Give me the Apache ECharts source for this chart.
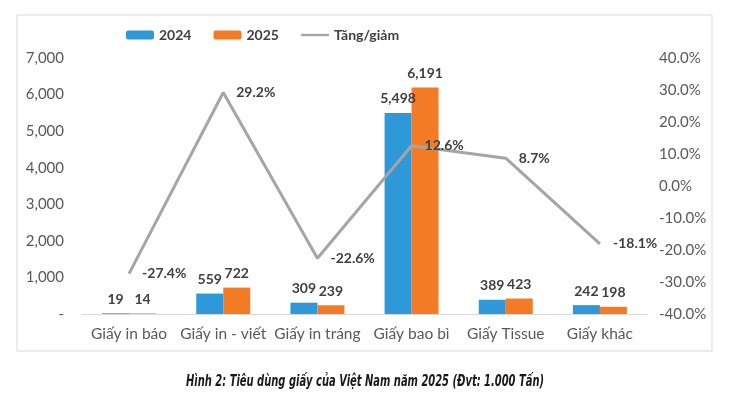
<!DOCTYPE html>
<html>
<head>
<meta charset="utf-8">
<script src="https://cdn.jsdelivr.net/npm/echarts@6/dist/echarts.min.js"></script>
<style>
  html, body { margin: 0; padding: 0; background: #fff; }
  #chart { width: 753px; height: 404px; }
</style>
</head>
<body>
<div id="chart"></div>
<script>
const categories = ['Giấy in báo', 'Giấy in - viết', 'Giấy in tráng', 'Giấy bao bì', 'Giấy Tissue', 'Giấy khác'];
const values2024 = [19, 559, 309, 5498, 389, 242];
const values2025 = [14, 722, 239, 6191, 423, 198];
const changePct = [-27.4, 29.2, -22.6, 12.6, 8.7, -18.1];

const chart = echarts.init(document.getElementById('chart'), null, { renderer: 'canvas' });

const font = 'Lato, "Open Sans", sans-serif';
const barLabel = {
    show: true,
    position: 'top',
    distance: 7,
    fontFamily: font,
    fontWeight: 'bold',
    fontSize: 14,
    color: '#404040',
    formatter: p => p.value.toLocaleString('en-US')
};

const option = {
    backgroundColor: '#fff',
    animation: false,
    textStyle: { fontFamily: font },
    legend: {
        left: 121,
        top: 23,
        itemWidth: 28,
        itemHeight: 9,
        itemGap: 22,
        textStyle: { fontFamily: font, fontSize: 14, fontWeight: 'bold', color: '#404040' },
        data: ['2024', '2025', {
            name: 'Tăng/giảm',
            // thin bar so the line legend looks like a plain stroke
            icon: 'path://M0,0 M28,9 M0,3.3 L28,3.3 L28,5.7 L0,5.7 Z'
        }]
    },
    grid: { left: 82, right: 106, top: 58, bottom: 90 },
    xAxis: {
        type: 'category',
        data: categories,
        axisTick: { show: false },
        axisLine: { lineStyle: { color: '#d9d9d9', width: 1 } },
        axisLabel: { interval: 0, fontFamily: font, fontSize: 15.5, color: '#595959', margin: 12 }
    },
    yAxis: [{
        type: 'value',
        min: 0,
        max: 7000,
        interval: 1000,
        splitLine: { show: false },
        axisLabel: {
            fontFamily: font, fontSize: 15, color: '#595959', margin: 18,
            formatter: v => v === 0 ? '-' : v.toLocaleString('en-US')
        }
    }, {
        type: 'value',
        min: -40,
        max: 40,
        interval: 10,
        splitLine: { show: false },
        axisLabel: {
            fontFamily: font, fontSize: 15, color: '#595959', margin: 12,
            formatter: v => v.toFixed(1) + '%'
        }
    }],
    series: [{
        name: '2024',
        type: 'bar',
        barWidth: 27,
        barGap: '0%',
        itemStyle: { color: '#2e98d8' },
        label: barLabel,
        data: values2024
    }, {
        name: '2025',
        type: 'bar',
        barWidth: 27,
        itemStyle: { color: '#f47b25' },
        label: barLabel,
        data: values2025
    }, {
        name: 'Tăng/giảm',
        type: 'line',
        yAxisIndex: 1,
        symbol: 'circle',
        symbolSize: 0,
        lineStyle: { color: '#a5a5a5', width: 3 },
        itemStyle: { color: '#a5a5a5' },
        label: {
            show: true,
            position: 'right',
            distance: 13,
            fontFamily: font,
            fontWeight: 'bold',
            fontSize: 14,
            color: '#404040',
            formatter: p => p.value.toFixed(1) + '%'
        },
        data: changePct
    }],
    graphic: [{
        type: 'rect',
        shape: { x: 17, y: 15, width: 695, height: 336 },
        style: { fill: 'none', stroke: '#d9d9d9', lineWidth: 1 },
        z: -1
    }, {
        type: 'text',
        x: 365,
        y: 382,
        scaleX: 0.69,
        style: {
            text: 'Hình 2: Tiêu dùng giấy của Việt Nam năm 2025 (Đvt: 1.000 Tấn)',
            fontFamily: '"DejaVu Sans Condensed", "DejaVu Sans", sans-serif',
            fontWeight: 'bold',
            fontStyle: 'italic',
            fontSize: 16,
            fill: '#1a1a1a',
            align: 'center',
            verticalAlign: 'middle'
        }
    }]
};
chart.setOption(option);
</script>
</body>
</html>
